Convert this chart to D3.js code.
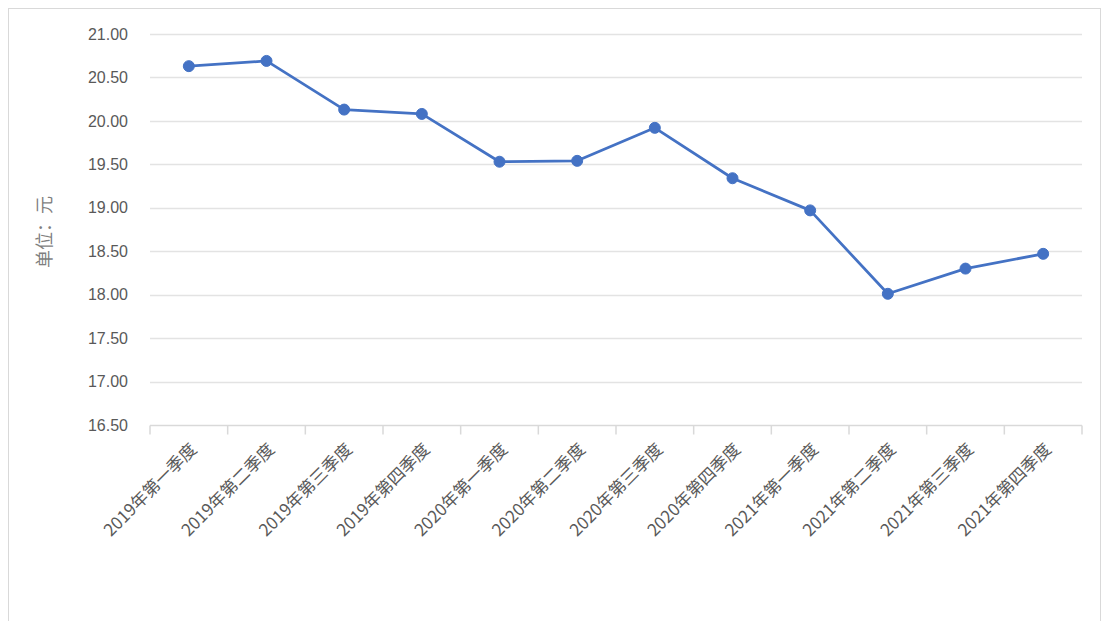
<!DOCTYPE html>
<html>
<head>
<meta charset="utf-8">
<script src="https://cdn.jsdelivr.net/npm/d3@7/dist/d3.min.js"></script>
<style>
  html, body { margin: 0; padding: 0; background: #fff; }
  svg { display: block; }
</style>
</head>
<body>
<svg id="chart" width="1104" height="621"></svg>
<script>
// Quarterly average price (unit: yuan)
const categories = [
  "2019年第一季度", "2019年第二季度", "2019年第三季度", "2019年第四季度",
  "2020年第一季度", "2020年第二季度", "2020年第三季度", "2020年第四季度",
  "2021年第一季度", "2021年第二季度", "2021年第三季度", "2021年第四季度"
];
const values = [20.63, 20.69, 20.13, 20.08, 19.53, 19.54, 19.92, 19.34, 18.97, 18.01, 18.30, 18.47];
const yTicks = [16.5, 17.0, 17.5, 18.0, 18.5, 19.0, 19.5, 20.0, 20.5, 21.0];
const yTitle = "单位：元";

const svg = d3.select("#chart");
const W = 1104, H = 621;
const margin = { left: 150, right: 22, top: 34, bottom: 196 };

// Outer chart frame
svg.append("rect")
  .attr("x", 8.5).attr("y", 8.5)
  .attr("width", W - 12).attr("height", H + 20)
  .attr("fill", "#fff").attr("stroke", "#d9d9d9").attr("stroke-width", 1);

const x = d3.scaleBand()
  .domain(categories)
  .range([margin.left, W - margin.right]);

const y = d3.scaleLinear()
  .domain([16.5, 21.0])
  .range([H - margin.bottom, margin.top]);

// Horizontal gridlines
svg.append("g")
  .selectAll("line")
  .data(yTicks.slice(1))
  .join("line")
  .attr("x1", margin.left).attr("x2", W - margin.right)
  .attr("y1", d => Math.round(y(d)) + 0.5).attr("y2", d => Math.round(y(d)) + 0.5)
  .attr("stroke", "#e3e3e3").attr("stroke-width", 1.5);

// Y axis labels
const yAxis = d3.axisLeft(y)
  .tickValues(yTicks)
  .tickFormat(d3.format(".2f"))
  .tickSize(0)
  .tickPadding(22);
svg.append("g")
  .attr("transform", `translate(${margin.left},0)`)
  .call(yAxis)
  .call(g => g.select(".domain").remove())
  .call(g => g.selectAll("text")
    .attr("fill", "#595959")
    .attr("font-family", "'Liberation Sans', Arial, sans-serif")
    .attr("font-size", 16));

// Category axis with boundary ticks
const xAxisG = svg.append("g")
  .attr("transform", `translate(0,${Math.round(y(16.5)) + 0.5})`);
xAxisG.append("line")
  .attr("x1", margin.left).attr("x2", W - margin.right)
  .attr("stroke", "#d9d9d9").attr("stroke-width", 1.5);
const bounds = categories.map(c => x(c)).concat([x(categories[categories.length - 1]) + x.bandwidth()]);
xAxisG.selectAll("line.tick")
  .data(bounds)
  .join("line")
  .attr("class", "tick")
  .attr("x1", d => d).attr("x2", d => d)
  .attr("y1", 0).attr("y2", 9)
  .attr("stroke", "#d9d9d9").attr("stroke-width", 1.5);

xAxisG.selectAll("text")
  .data(categories)
  .join("text")
  .attr("transform", d => `translate(${x(d) + x.bandwidth() / 2 + 9},${25}) rotate(-45)`)
  .attr("text-anchor", "end")
  .attr("fill", "#595959")
  .attr("font-family", "'Noto Sans CJK SC', sans-serif")
  .attr("font-size", 17)
  .text(d => d);

// Y axis title
svg.append("text")
  .attr("transform", `translate(51,${232}) rotate(-90)`)
  .attr("text-anchor", "middle")
  .attr("fill", "#7f7f7f")
  .attr("font-family", "'Noto Sans CJK SC', sans-serif")
  .attr("font-size", 18)
  .text(yTitle);

// Price line with markers
const cx = d => x(d) + x.bandwidth() / 2;
const line = d3.line()
  .x((d, i) => cx(categories[i]))
  .y(d => y(d));

svg.append("path")
  .datum(values)
  .attr("d", line)
  .attr("fill", "none")
  .attr("stroke", "#4472c4")
  .attr("stroke-width", 2.75)
  .attr("stroke-linejoin", "round");

svg.append("g")
  .selectAll("circle")
  .data(values)
  .join("circle")
  .attr("cx", (d, i) => cx(categories[i]))
  .attr("cy", d => y(d))
  .attr("r", 5.5)
  .attr("fill", "#4472c4")
  .attr("stroke", "#4472c4")
  .attr("stroke-width", 1);
</script>
</body>
</html>
